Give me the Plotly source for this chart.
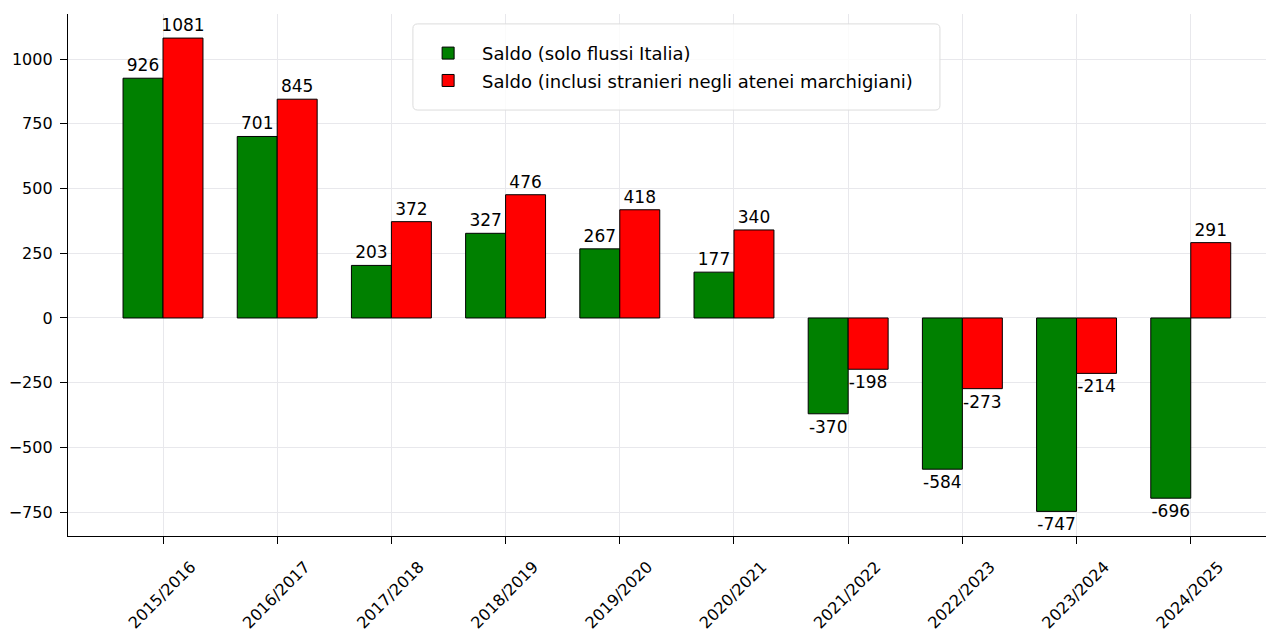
import plotly.graph_objects as go

categories = ["2015/2016", "2016/2017", "2017/2018", "2018/2019", "2019/2020",
              "2020/2021", "2021/2022", "2022/2023", "2023/2024", "2024/2025"]
saldo_italia = [926, 701, 203, 327, 267, 177, -370, -584, -747, -696]
saldo_stranieri = [1081, 845, 372, 476, 418, 340, -198, -273, -214, 291]
y_ticks = [-750, -500, -250, 0, 250, 500, 750, 1000]

xpos = list(range(len(categories)))
FONT = "DejaVu Sans"

fig = go.Figure()
fig.add_trace(go.Bar(
    x=xpos, y=saldo_italia, name="Saldo (solo flussi Italia)", legendgroup="a",
    marker=dict(color="#008000", line=dict(color="black", width=1)),
    text=[str(v) for v in saldo_italia], textposition="outside",
    textfont=dict(size=17, color="black", family=FONT),
    constraintext="none", cliponaxis=False,
))
fig.add_trace(go.Bar(
    x=xpos, y=saldo_stranieri, name="Saldo (inclusi stranieri negli atenei marchigiani)",
    legendgroup="b",
    marker=dict(color="#ff0000", line=dict(color="black", width=1)),
    text=[str(v) for v in saldo_stranieri], textposition="outside",
    textfont=dict(size=17, color="black", family=FONT),
    constraintext="none", cliponaxis=False,
))

# legend frame (rounded rectangle in paper coordinates)
x0, x1, y0, y1 = 0.286, 0.723, 0.816, 0.981
rx, ry = 0.004, 0.009
path = (f"M {x0+rx},{y0} L {x1-rx},{y0} Q {x1},{y0} {x1},{y0+ry} "
        f"L {x1},{y1-ry} Q {x1},{y1} {x1-rx},{y1} L {x0+rx},{y1} "
        f"Q {x0},{y1} {x0},{y1-ry} L {x0},{y0+ry} Q {x0},{y0} {x0+rx},{y0} Z")
fig.add_shape(type="path", path=path, xref="paper", yref="paper",
              fillcolor="rgba(255,255,255,0.8)", line=dict(color="#dcdcdc", width=1),
              layer="above")

fig.update_layout(
    width=1266, height=622,
    margin=dict(l=60, r=0, t=6, b=94, autoexpand=False),
    barmode="group", bargap=0.3, bargroupgap=0,
    plot_bgcolor="white", paper_bgcolor="white",
    font=dict(family=FONT, size=16, color="black"),
    legend=dict(
        x=0.287, y=0.960, xanchor="left", yanchor="top",
        bgcolor="rgba(0,0,0,0)", borderwidth=0,
        font=dict(size=18, family=FONT),
        itemwidth=58, tracegroupgap=1,
    ),
    showlegend=True,
)
fig.update_xaxes(
    range=[-0.832, 9.729], automargin=False,
    tickmode="array", tickvals=xpos, ticktext=categories,
    tickangle=-45, ticks="outside", ticklen=7, tickwidth=1.3, tickcolor="black",
    showline=True, linecolor="black", linewidth=1.3,
    showgrid=True, gridcolor="#e8e8ec", gridwidth=1,
    zeroline=False, tickfont=dict(size=16, family=FONT),
    ticklabelshift=28, ticklabelstandoff=7,
)
fig.update_yaxes(
    range=[-842, 1174], automargin=False,
    tickmode="array", tickvals=y_ticks,
    ticks="outside", ticklen=7, tickwidth=1.3, tickcolor="black",
    showline=True, linecolor="black", linewidth=1.3,
    showgrid=True, gridcolor="#e8e8ec", gridwidth=1,
    zeroline=False, tickfont=dict(size=16, family=FONT),
    ticklabelstandoff=4,
)

fig.write_html("out.html")
